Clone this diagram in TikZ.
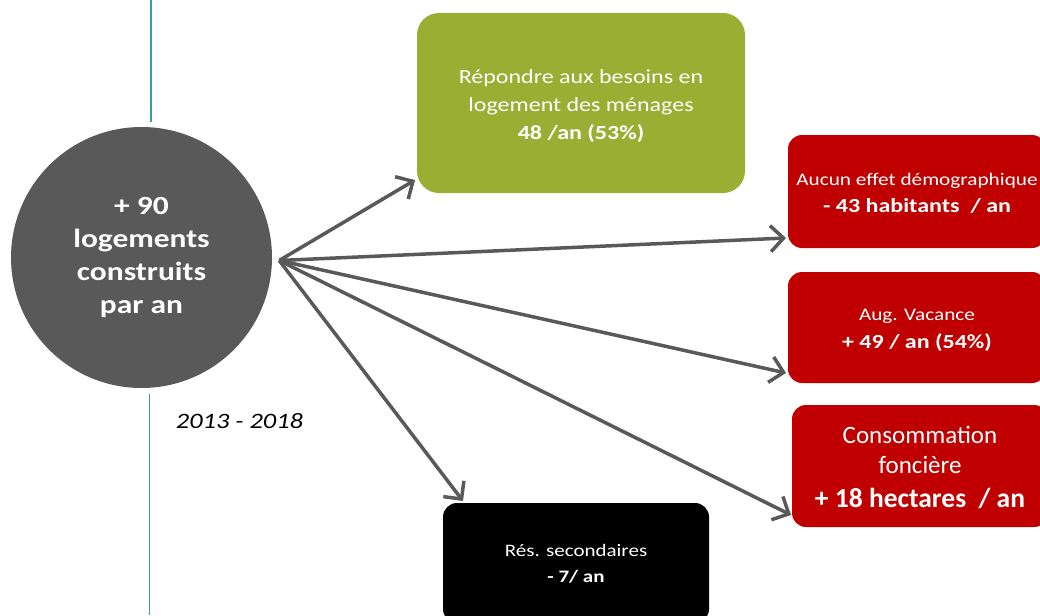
\documentclass[tikz,border=0pt]{standalone}
\usepackage{fontspec}
\setmainfont[FakeStretch=1.2]{Carlito}
\newfontfamily\consfont{Carlito}
\usetikzlibrary{arrows.meta,calc}
\definecolor{cgreen}{HTML}{9BAE34}
\definecolor{cred}{HTML}{C00000}
\definecolor{cgray}{HTML}{595959}
\definecolor{cteal}{HTML}{3F97AA}
\begin{document}
\begin{tikzpicture}[x=1pt,y=-1pt,
  boxshape/.style={inner sep=0pt, outer sep=0pt},
  greenbox/.style={boxshape, fill=cgreen, rounded corners=22pt},
  redbox/.style={boxshape, fill=cred, rounded corners=14pt},
  blackbox/.style={boxshape, fill=black, rounded corners=14pt},
  boxtext/.style={text=white, align=center, inner sep=0pt, anchor=base},
  conn/.style={draw=cgray, line width=3.5pt, -{Straight Barb[length=13pt,width=26pt]}},
  timeline/.style={draw=cteal, line width=1.6pt}]
\path[use as bounding box, clip] (0,0) rectangle (1040,615);
% vertical line
\coordinate (lt1) at (151,0);
\coordinate (lt2) at (151,122);
\coordinate (lb1) at (149.5,394);
\coordinate (lb2) at (149.5,615);
\draw[timeline] (lt1) -- (lt2);
\draw[timeline] (lb1) -- (lb2);
% central circle
\node[circle, fill=cgray, minimum size=261pt, inner sep=0pt] (src) at (141.5,257.5) {};
\node[boxtext, font=\fontsize{26.2}{33}\selectfont\bfseries] (srctext) at (141.5,313)
  {+ 90\\logements\\construits\\par an};
\node[anchor=base, inner sep=0pt, font=\fontsize{22}{26}\selectfont\itshape] (years) at (239.5,428) {2013 - 2018};
% boxes
\node[greenbox, minimum width=328pt, minimum height=180pt] (green) at (581,103) {};
\node[boxtext, font=\fontsize{20}{28}\selectfont] (greentext) at (581,139.3)
  {Répondre aux besoins en\\logement des ménages\\\textbf{48 /an (53\%)}};
\node[redbox, minimum width=258pt, minimum height=113pt] (red1) at (917,191.5) {};
\node[boxtext, font=\fontsize{17.7}{27.7}\selectfont] (red1text) at (917,212.7)
  {Aucun effet démographique\\{\fontsize{20}{20}\selectfont\bfseries - 43 habitants\ \ / an}};
\node[redbox, minimum width=258pt, minimum height=111pt] (red2) at (917,327.5) {};
\node[boxtext, font=\fontsize{17.7}{28.3}\selectfont] (red2text) at (917,348.3)
  {Aug. Vacance\\{\fontsize{20}{20}\selectfont\bfseries + 49 / an (54\%)}};
\node[redbox, minimum width=256pt, minimum height=122pt] (red3) at (920,466) {};
\node[boxtext, font=\fontsize{25}{30}\selectfont\consfont] (red3text) at (920,507.3)
  {Consommation\\foncière\\[4pt]{\fontsize{27.5}{27.5}\selectfont\bfseries + 18 hectares\ \ / an}};
\node[blackbox, minimum width=266pt, minimum height=120pt] (black) at (576,563) {};
\node[boxtext, font=\fontsize{17.5}{26.7}\selectfont] (blacktext) at (576,582.7)
  {Rés. secondaires\\\textbf{- 7/ an}};
% connectors
\coordinate (start) at ($(src.east)+(7,3)$);
\draw[conn] (start) -- ($(green.south west)+(-2,-13)$);
\draw[conn] (start) -- ($(red1.south west)+(-2,-10)$);
\draw[conn] (start) -- ($(red2.south west)+(-2,-10)$);
\draw[conn] (start) -- ($(black.north west)+(20,-2)$);
\draw[conn] (start) -- ($(red3.south west)+(-1,-12)$);
\end{tikzpicture}
\end{document}
